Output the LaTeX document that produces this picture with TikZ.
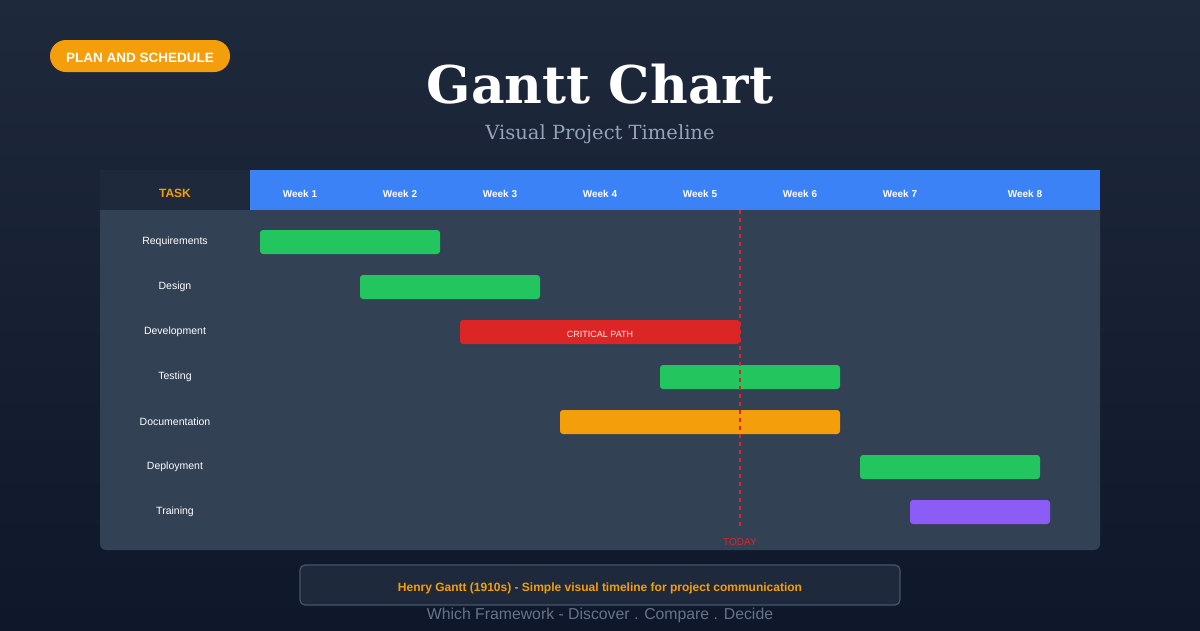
\documentclass[tikz,border=0pt]{standalone}
\usepackage{fontspec}
\setmainfont{Liberation Sans}
\newfontfamily\serifx{DejaVu Serif}
\usetikzlibrary{calc}
\definecolor{bgA}{HTML}{1E293B}
\definecolor{bgB}{HTML}{0F172A}
\definecolor{panel}{HTML}{334155}
\definecolor{hdr}{HTML}{3B82F6}
\definecolor{taskh}{HTML}{1E293B}
\definecolor{gr}{HTML}{22C55E}
\definecolor{rd}{HTML}{DC2626}
\definecolor{og}{HTML}{F59E0B}
\definecolor{pu}{HTML}{8B5CF6}
\definecolor{sub}{HTML}{94A3B8}
\definecolor{muted}{HTML}{64748B}
\definecolor{bord}{HTML}{475569}
\tikzset{
  wk/.style={text=white, font=\bfseries\fontsize{10}{12}\selectfont},
  tk/.style={text=white, font=\fontsize{10.5}{13}\selectfont},
}
\begin{document}
\begin{tikzpicture}[x=1pt,y=-1pt]
\shade[top color=bgA, bottom color=bgB] (0,0) rectangle (1200,630);
\useasboundingbox (0,0) rectangle (1200,630);
\fill[og, rounded corners=16pt] (50,40) rectangle (230,72);
\node[text=white, font=\bfseries\fontsize{13.5}{16}\selectfont] (badge) at (140,57.5) {PLAN AND SCHEDULE};
\node[text=white, font=\serifx\bfseries\fontsize{52}{60}\selectfont] (title) at (600,84) {Gantt Chart};
\node[text=sub, font=\serifx\fontsize{19.5}{22}\selectfont] (subt) at (600,134) {Visual Project Timeline};
\fill[panel, rounded corners=6pt] (100,200) rectangle (1100,550);
\fill[panel] (100,200) rectangle (1100,230);
\fill[taskh] (100,170) rectangle (250,210);
\fill[hdr] (250,170) rectangle (1100,210);
\node[text=og, font=\bfseries\fontsize{12}{14}\selectfont] (taskhd) at (175,193.5) {TASK};
\foreach \x/\n in {300/1,400/2,500/3,600/4,700/5,800/6,900/7,1025/8}
  \node[wk] (w\n) at (\x,193.5) {Week \n};
\foreach \y/\t [count=\i] in {242/Requirements,287/Design,332/Development,377/Testing,422/Documentation,467/Deployment,512/Training}
  \node[tk] (t\i) at (175,\y) {\t};
\fill[gr, rounded corners=3pt] (260,230) rectangle (440,254);
\fill[gr, rounded corners=3pt] (360,275) rectangle (540,299);
\fill[rd, rounded corners=3pt] (460,320) rectangle (740,344);
\node[text=white!90!rd, font=\fontsize{9}{10}\selectfont] (cp) at (600,334) {CRITICAL PATH};
\fill[gr, rounded corners=3pt] (660,365) rectangle (840,389);
\fill[og, rounded corners=3pt] (560,410) rectangle (840,434);
\fill[gr, rounded corners=3pt] (860,455) rectangle (1040,479);
\fill[pu, rounded corners=3pt] (910,500) rectangle (1050,524);
\coordinate (ta) at (740,210);
\coordinate (tb) at (740,526);
\draw[rd, line width=1.5pt, dash pattern=on 4pt off 4pt] (ta) -- (tb);
\node[text=rd, font=\fontsize{10}{12}\selectfont] (today) at (740,542) {TODAY};
\draw[bord, line width=1.2pt, fill=bgA, rounded corners=5pt] (300,565) rectangle (900,605);
\node[text=og, font=\bfseries\fontsize{12}{14}\selectfont] (foot) at (600,588) {Henry Gantt (1910s) - Simple visual timeline for project communication};
\node[text=muted, font=\fontsize{15.8}{18}\selectfont] (brand) at (600,615) {Which Framework - Discover . Compare . Decide};
\end{tikzpicture}
\end{document}
